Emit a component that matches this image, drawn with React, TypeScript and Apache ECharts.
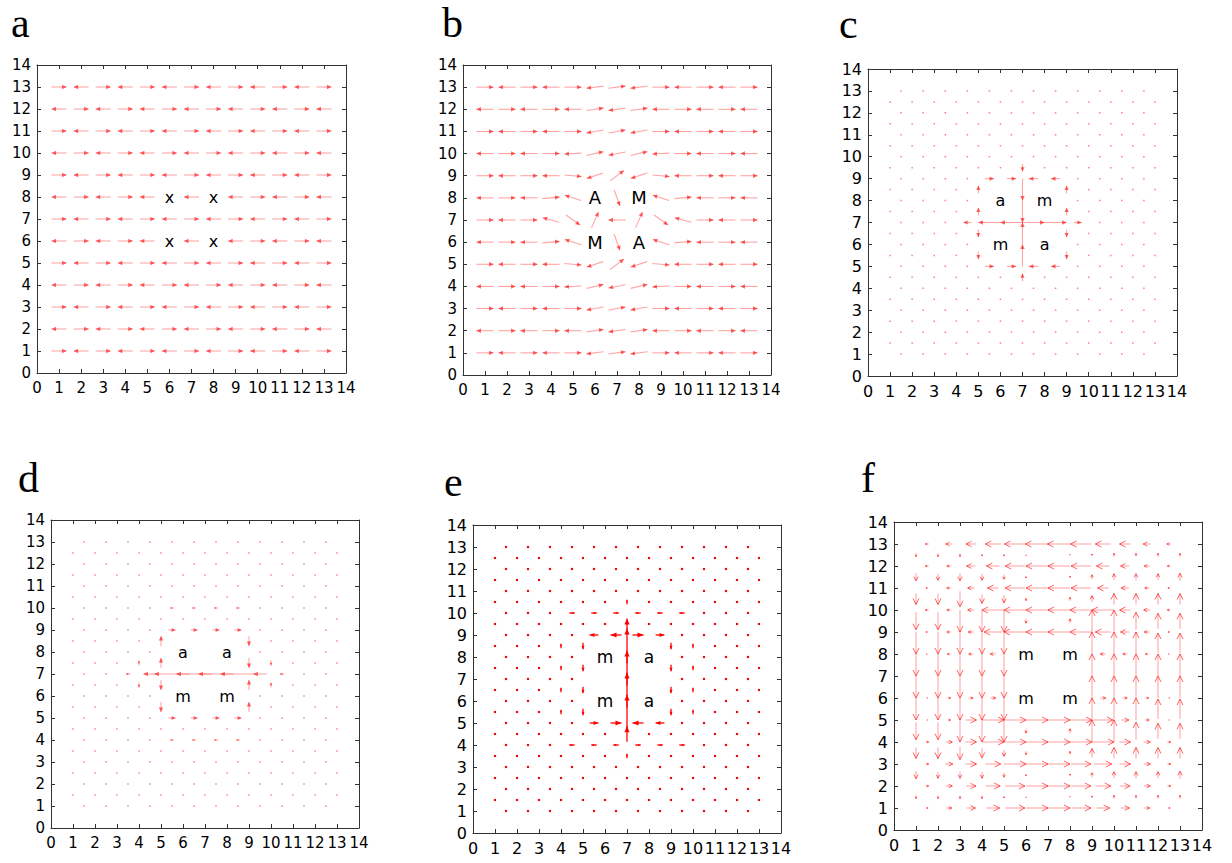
import React, { useEffect, useRef } from "react";
import * as echarts from "echarts";

// ---------- shared axis values ----------
const TICKS = [0, 1, 2, 3, 4, 5, 6, 7, 8, 9, 10, 11, 12, 13, 14];
const NODES = [1, 2, 3, 4, 5, 6, 7, 8, 9, 10, 11, 12, 13];
const HALVES = [1.5, 2.5, 3.5, 4.5, 5.5, 6.5, 7.5, 8.5, 9.5, 10.5, 11.5, 12.5];
const ROWS_TOP_DOWN = [13, 12, 11, 10, 9, 8, 7, 6, 5, 4, 3, 2, 1];
const HALF_ROWS_TOP_DOWN = [12.5, 11.5, 10.5, 9.5, 8.5, 7.5, 6.5, 5.5, 4.5, 3.5, 2.5, 1.5];

// ---------- labels at the four central nodes ----------
const LABEL_NODES = [[6, 8], [8, 8], [6, 6], [8, 6]];
const A_LABELS = ["x", "x", "x", "x"];
const B_LABELS = ["A", "M", "M", "A"];
const C_LABELS = ["a", "m", "m", "a"];
const D_LABELS = ["a", "a", "m", "m"];
const E_LABELS = ["m", "a", "m", "a"];
const F_LABELS = ["m", "m", "m", "m"];

// ---------- panel a: horizontal vectors at nodes (R right, L left, . none) ----------
const A_LENGTH = 0.68;
const A_ROWS = [
  "RLRLRLRLRLRLR",
  "LRLRLRLRLRLRL",
  "RLRLRLRLRLRLR",
  "LRLRLRLRLRLRL",
  "RLRLRLRLRLRLR",
  "LRLRL.L.LRLRL",
  "RLRLRLRLRLRLR",
  "LRLRL.L.LRLRL",
  "RLRLRLRLRLRLR",
  "LRLRLRLRLRLRL",
  "RLRLRLRLRLRLR",
  "LRLRLRLRLRLRL",
  "RLRLRLRLRLRLR",
];

// ---------- panel b: vector angle (degrees) at nodes, rows y=13..1 ----------
const B_LENGTH = 0.78;
const B_ANGLES = [
  [0, 180, 0, 180, 0, 187, 7, 187, 0, 180, 0, 180, 0],
  [180, 0, 180, 0, 180, 8, 188, 8, 180, 0, 180, 0, 180],
  [0, 180, 0, 180, 0, 190, 10, 190, 0, 180, 0, 180, 0],
  [180, 0, 180, 0, 183, 13, 191, 13, 183, 0, 180, 0, 180],
  [0, 180, 0, 180, 355, 198, 37, 198, 355, 180, 0, 180, 0],
  [180, 0, 180, 5, 162, null, -70, null, 162, 5, 180, 0, 180],
  [0, 180, 0, 165, -35, 66, 180, 66, -35, 165, 0, 180, 0],
  [180, 0, 180, 5, 162, null, -70, null, 162, 5, 180, 0, 180],
  [0, 180, 0, 180, 355, 198, 37, 198, 355, 180, 0, 180, 0],
  [180, 0, 180, 0, 183, 13, 191, 13, 183, 0, 180, 0, 180],
  [0, 180, 0, 180, 0, 190, 10, 190, 0, 180, 0, 180, 0],
  [180, 0, 180, 0, 180, 8, 188, 8, 180, 0, 180, 0, 180],
  [0, 180, 0, 180, 0, 187, 7, 187, 0, 180, 0, 180, 0],
];

// ---------- panels c, d, e: non-negligible edge vectors [x, y, u, v] ----------
const C_VECTORS = [
  [7, 9.5, 0, -0.35], [7, 8.5, 0, -1], [7, 7.5, 0, -1], [7, 6.5, 0, 1], [7, 5.5, 0, 1], [7, 4.5, 0, 0.35],
  [4.5, 7, -0.35, 0], [5.5, 7, -1, 0], [6.5, 7, -1, 0], [7.5, 7, 1, 0], [8.5, 7, 1, 0], [9.5, 7, 0.35, 0],
  [5.5, 9, 0.42, 0], [6.5, 9, 0.42, 0], [7.5, 9, -0.42, 0], [8.5, 9, -0.42, 0],
  [5.5, 5, 0.42, 0], [6.5, 5, 0.42, 0], [7.5, 5, -0.42, 0], [8.5, 5, -0.42, 0],
  [5, 8.5, 0, 0.35], [5, 7.5, 0, 0.35], [5, 6.5, 0, -0.35], [5, 5.5, 0, -0.35],
  [9, 8.5, 0, 0.35], [9, 7.5, 0, 0.35], [9, 6.5, 0, -0.35], [9, 5.5, 0, -0.35],
];
const D_VECTORS = [
  [3.5, 7, -0.2, 0], [4.5, 7, -0.6, 0], [5.5, 7, -1.6, 0], [6.5, 7, -1.6, 0], [7.5, 7, -1.6, 0], [8.5, 7, -1.6, 0], [9.5, 7, -0.6, 0], [10.5, 7, -0.2, 0],
  [5, 8.5, 0, 0.45], [5, 7.5, 0, 0.45], [5, 6.5, 0, -0.45], [5, 5.5, 0, -0.45],
  [9, 8.5, 0, -0.45], [9, 7.5, 0, -0.45], [9, 6.5, 0, 0.45], [9, 5.5, 0, 0.45],
  [5.5, 9, 0.32, 0], [6.5, 9, 0.32, 0], [7.5, 9, 0.32, 0], [8.5, 9, 0.32, 0],
  [5.5, 5, 0.32, 0], [6.5, 5, 0.32, 0], [7.5, 5, 0.32, 0], [8.5, 5, 0.32, 0],
  [4, 7.5, 0, 0.22], [4, 6.5, 0, -0.22], [10, 7.5, 0, -0.22], [10, 6.5, 0, 0.22],
  [5.5, 10, -0.18, 0], [6.5, 10, -0.18, 0], [7.5, 10, -0.18, 0], [8.5, 10, -0.18, 0],
  [5.5, 4, -0.18, 0], [6.5, 4, -0.18, 0], [7.5, 4, -0.18, 0], [8.5, 4, -0.18, 0],
];
const E_VECTORS = [
  [7, 3.5, 0, 0.2], [7, 4.5, 0, 0.7], [7, 5.5, 0, 1.6], [7, 6.5, 0, 1.6], [7, 7.5, 0, 1.6], [7, 8.5, 0, 1.6], [7, 9.5, 0, 0.5], [7, 10.5, 0, 0.2],
  [5.5, 9, -0.4, 0], [6.5, 9, -0.5, 0], [7.5, 9, 0.5, 0], [8.5, 9, 0.4, 0],
  [5.5, 5, 0.4, 0], [6.5, 5, 0.5, 0], [7.5, 5, -0.5, 0], [8.5, 5, -0.4, 0],
  [5, 8.5, 0, -0.3], [5, 7.5, 0, -0.3], [5, 6.5, 0, -0.3], [5, 5.5, 0, -0.3],
  [9, 8.5, 0, -0.3], [9, 7.5, 0, -0.3], [9, 6.5, 0, -0.3], [9, 5.5, 0, -0.3],
  [4.5, 10, 0.25, 0], [5.5, 10, 0.25, 0], [6.5, 10, 0.25, 0], [7.5, 10, -0.25, 0], [8.5, 10, -0.25, 0], [9.5, 10, -0.25, 0],
  [4.5, 4, -0.25, 0], [5.5, 4, -0.25, 0], [6.5, 4, -0.25, 0], [7.5, 4, 0.25, 0], [8.5, 4, 0.25, 0], [9.5, 4, 0.25, 0],
  [4, 8.5, 0, 0.2], [4, 7.5, 0, 0.2], [4, 6.5, 0, 0.2], [4, 5.5, 0, 0.2],
  [10, 8.5, 0, 0.2], [10, 7.5, 0, 0.2], [10, 6.5, 0, 0.2], [10, 5.5, 0, 0.2],
];

// ---------- panel f: horizontal components u on rows y=13..1 at x=1.5..12.5 ----------
const F_U = [
  [-0.15, -0.3, -0.45, -0.7, -0.95, -1.05, -1.05, -0.95, -0.7, -0.5, -0.35, -0.2],
  [-0.15, -0.2, -0.4, -0.6, -0.9, -1.0, -1.0, -0.9, -0.6, -0.4, -0.25, -0.15],
  [-0.1, -0.2, -0.3, -0.5, -0.9, -1.0, -1.0, -0.9, -0.5, -0.35, -0.2, -0.1],
  [-0.15, -0.2, -0.3, -1.0, -1.0, -1.0, -1.0, -1.0, -1.0, -0.5, -0.3, -0.15],
  [-0.1, -0.2, -0.25, -0.8, -1.0, -1.0, -1.0, -1.0, -0.7, -0.4, -0.25, -0.1],
  [-0.05, -0.15, -0.2, -0.25, 0, 0, 0, 0, -0.25, -0.2, -0.15, -0.05],
  [0, 0, 0, 0, 0, 0, 0, 0, 0, 0, 0, 0],
  [0.05, 0.15, 0.2, 0.25, 0, 0, 0, 0, 0.25, 0.2, 0.15, 0.05],
  [0.05, 0.15, 0.5, 1.0, 1.0, 1.0, 1.0, 1.0, 0.9, 0.35, 0.2, 0.05],
  [0.15, 0.3, 0.5, 1.0, 1.0, 1.0, 1.0, 1.0, 1.0, 0.5, 0.3, 0.15],
  [0.15, 0.35, 0.5, 0.7, 1.0, 1.0, 1.0, 0.9, 0.8, 0.5, 0.3, 0.15],
  [0.15, 0.3, 0.45, 0.65, 0.9, 1.0, 1.0, 0.9, 0.7, 0.45, 0.3, 0.15],
  [0.1, 0.25, 0.4, 0.6, 0.9, 1.0, 1.0, 0.9, 0.6, 0.4, 0.25, 0.1],
];
// vertical components v on columns x=1..13 at y=12.5..1.5
const F_V = [
  [-0.15, -0.35, -0.5, -0.8, -1.0, -1.0, -1.0, -1.0, -0.8, -0.5, -0.35, -0.15],
  [-0.15, -0.3, -0.5, -0.8, -1.0, -1.0, -1.0, -1.0, -0.8, -0.5, -0.3, -0.15],
  [-0.15, -0.35, -0.7, -1.0, -1.0, -1.0, -1.0, -1.0, -1.0, -0.6, -0.3, -0.15],
  [-0.1, -0.3, -0.4, -1.0, -1.0, -1.0, -1.0, -1.0, -1.0, -0.45, -0.3, -0.15],
  [-0.1, -0.2, -0.35, -1.0, -1.0, -1.0, -1.0, -1.0, -1.0, -0.3, -0.2, -0.1],
  [-0.05, -0.1, -0.15, -0.2, 0, 0, 0, 0, -0.2, -0.15, -0.1, -0.05],
  [0, 0, 0, 0, 0, 0, 0, 0, 0, 0, 0, 0],
  [0.05, 0.1, 0.15, 0.2, 0, 0, 0, 0, 0.2, 0.15, 0.1, 0.05],
  [0.1, 0.2, 0.3, 1.0, 1.0, 1.0, 1.0, 1.0, 1.0, 0.4, 0.2, 0.1],
  [0.15, 0.3, 0.5, 1.0, 1.0, 1.0, 1.0, 1.0, 1.0, 0.5, 0.3, 0.15],
  [0.15, 0.3, 0.5, 0.8, 1.0, 1.0, 1.0, 1.0, 0.8, 0.5, 0.3, 0.15],
  [0.15, 0.3, 0.5, 0.7, 0.9, 1.0, 1.0, 0.9, 0.7, 0.5, 0.3, 0.15],
  [0.15, 0.35, 0.5, 0.7, 0.9, 1.0, 1.0, 0.9, 0.7, 0.5, 0.35, 0.15],
];

// ---------- data builders ----------
function buildA() {
  const out: number[][] = [];
  A_ROWS.forEach((row, ri) => {
    const y = ROWS_TOP_DOWN[ri];
    row.split("").forEach((ch, xi) => {
      const x = NODES[xi];
      if (ch === "R") out.push([x, y, A_LENGTH, 0]);
      if (ch === "L") out.push([x, y, -A_LENGTH, 0]);
    });
  });
  return out;
}
function buildB() {
  const out: number[][] = [];
  B_ANGLES.forEach((row, ri) => {
    const y = ROWS_TOP_DOWN[ri];
    row.forEach((ang, xi) => {
      if (ang === null) return;
      const r = ((ang as number) * Math.PI) / 180;
      out.push([NODES[xi], y, B_LENGTH * Math.cos(r), B_LENGTH * Math.sin(r)]);
    });
  });
  return out;
}
function inside(x: number, y: number) {
  return x > 5 && x < 9 && y > 5 && y < 9;
}
function latticeDots(vectors: number[][]) {
  const taken = new Set(vectors.map((v) => v[0] + "," + v[1]));
  const out: number[][] = [];
  ROWS_TOP_DOWN.forEach((y) =>
    HALVES.forEach((x) => {
      if (!inside(x, y) && !taken.has(x + "," + y)) out.push([x, y, 0, 0]);
    })
  );
  HALF_ROWS_TOP_DOWN.forEach((y) =>
    NODES.forEach((x) => {
      if (!inside(x, y) && !taken.has(x + "," + y)) out.push([x, y, 0, 0]);
    })
  );
  return out;
}
function buildF() {
  const out: number[][] = [];
  F_U.forEach((row, ri) =>
    row.forEach((u, xi) => {
      if (u !== 0) out.push([HALVES[xi], ROWS_TOP_DOWN[ri], u, 0]);
    })
  );
  F_V.forEach((col, xi) =>
    col.forEach((v, yi) => {
      if (v !== 0) out.push([NODES[xi], HALF_ROWS_TOP_DOWN[yi], 0, v]);
    })
  );
  return out;
}

// ---------- layout / style ----------
type Style = {
  shaft: string;
  shaftWidth: number;
  head: string;
  headLen: number;
  headW: number;
  open: boolean;
  dot: string;
  dotSize: number;
};
const PALE: Style = { shaft: "rgba(255,40,40,0.42)", shaftWidth: 1.1, head: "rgba(255,0,0,0.6)", headLen: 4.5, headW: 2.2, open: false, dot: "rgba(255,0,0,0.5)", dotSize: 1.5 };
const BOLD: Style = { shaft: "rgba(255,0,0,0.85)", shaftWidth: 1.5, head: "rgb(255,0,0)", headLen: 6, headW: 2.6, open: false, dot: "rgba(235,0,0,0.95)", dotSize: 2.2 };
const OPEN: Style = { shaft: "rgba(255,40,40,0.42)", shaftWidth: 1.1, head: "rgba(255,0,0,0.6)", headLen: 6, headW: 3, open: true, dot: "rgba(255,0,0,0.5)", dotSize: 1.5 };

const PANELS = [
  { title: "a", grid: { left: 37, top: 65, width: 309, height: 308 }, tx: 11, ty: 2, vectors: buildA(), dots: [] as number[][], labels: A_LABELS, style: PALE, labelSize: 16, tickSize: 15 },
  { title: "b", grid: { left: 463, top: 65, width: 308, height: 310 }, tx: 442, ty: 2, vectors: buildB(), dots: [] as number[][], labels: B_LABELS, style: PALE, labelSize: 18, tickSize: 15 },
  { title: "c", grid: { left: 868, top: 69, width: 309, height: 307 }, tx: 839, ty: 3, vectors: C_VECTORS, dots: latticeDots(C_VECTORS), labels: C_LABELS, style: PALE, labelSize: 16, tickSize: 16 },
  { title: "d", grid: { left: 51, top: 520, width: 308, height: 308 }, tx: 18, ty: 457, vectors: D_VECTORS, dots: latticeDots(D_VECTORS), labels: D_LABELS, style: PALE, labelSize: 16, tickSize: 15 },
  { title: "e", grid: { left: 473, top: 525, width: 308, height: 308 }, tx: 444, ty: 461, vectors: E_VECTORS, dots: latticeDots(E_VECTORS), labels: E_LABELS, style: BOLD, labelSize: 17, tickSize: 16 },
  { title: "f", grid: { left: 894, top: 522, width: 308, height: 308 }, tx: 861, ty: 457, vectors: buildF(), dots: [] as number[][], labels: F_LABELS, style: OPEN, labelSize: 16, tickSize: 16 },
];

function makeArrowRenderer(st: Style) {
  return (params: any, api: any) => {
    const x = api.value(0), y = api.value(1), u = api.value(2), v = api.value(3);
    const c = api.coord([x, y]);
    if (u === 0 && v === 0) {
      return { type: "rect", shape: { x: c[0] - st.dotSize / 2, y: c[1] - st.dotSize / 2, width: st.dotSize, height: st.dotSize }, style: { fill: st.dot } };
    }
    const p0 = api.coord([x - u / 2, y - v / 2]);
    const p1 = api.coord([x + u / 2, y + v / 2]);
    const dx = p1[0] - p0[0], dy = p1[1] - p0[1];
    const L = Math.hypot(dx, dy);
    const ux = dx / L, uy = dy / L;
    const hl = Math.min(st.headLen, L * 0.55);
    const hw = st.headW * (hl / st.headLen);
    const bx = p1[0] - ux * hl, by = p1[1] - uy * hl;
    const l1 = [bx - uy * hw, by + ux * hw];
    const l2 = [bx + uy * hw, by - ux * hw];
    const children: any[] = [
      { type: "line", shape: { x1: p0[0], y1: p0[1], x2: p1[0], y2: p1[1] }, style: { stroke: st.shaft, lineWidth: st.shaftWidth } },
    ];
    if (st.open) {
      children.push({ type: "polyline", shape: { points: [l1, p1, l2] }, style: { stroke: st.head, lineWidth: 1, fill: null } });
    } else {
      children.push({ type: "polygon", shape: { points: [l1, p1, l2] }, style: { fill: st.head } });
    }
    return { type: "group", children };
  };
}

const AXIS_COLOR = "#333";
const FONT = "DejaVu Sans";

function buildOption() {
  const grid: any[] = [];
  const xAxis: any[] = [];
  const yAxis: any[] = [];
  const series: any[] = [];
  const graphic: any[] = [];
  const step = TICKS[1] - TICKS[0];
  PANELS.forEach((p, i) => {
    grid.push({ ...p.grid, show: false, containLabel: false });
    const base = {
      type: "value",
      min: TICKS[0],
      max: TICKS[TICKS.length - 1],
      interval: step,
      gridIndex: i,
      splitLine: { show: false },
      axisLine: { show: true, onZero: false, lineStyle: { color: AXIS_COLOR, width: 1 } },
      axisTick: { show: true, inside: true, length: 4, lineStyle: { color: AXIS_COLOR, width: 1 } },
    };
    xAxis.push({ ...base, position: "bottom", axisLabel: { show: true, color: "#000", fontSize: p.tickSize, fontFamily: FONT, margin: 7 } });
    xAxis.push({ ...base, position: "top", axisLabel: { show: false } });
    yAxis.push({ ...base, position: "left", axisLabel: { show: true, color: "#000", fontSize: p.tickSize, fontFamily: FONT, margin: 6 } });
    yAxis.push({ ...base, position: "right", axisLabel: { show: false } });
    const render = makeArrowRenderer(p.style);
    if (p.dots.length) {
      series.push({ type: "custom", xAxisIndex: 2 * i, yAxisIndex: 2 * i, data: p.dots, renderItem: render, silent: true, clip: false });
    }
    series.push({ type: "custom", xAxisIndex: 2 * i, yAxisIndex: 2 * i, data: p.vectors, renderItem: render, silent: true, clip: false });
    series.push({
      type: "custom",
      xAxisIndex: 2 * i,
      yAxisIndex: 2 * i,
      data: LABEL_NODES.map((n, k) => [n[0], n[1], p.labels[k]]),
      silent: true,
      renderItem: (params: any, api: any) => {
        const c = api.coord([api.value(0), api.value(1)]);
        return {
          type: "text",
          x: c[0],
          y: c[1],
          style: { text: String(api.value(2)), fill: "#000", fontSize: p.labelSize, fontFamily: FONT, align: "center", verticalAlign: "middle" },
        };
      },
      encode: { x: 0, y: 1 },
      dimensions: ["x", "y", { name: "t", type: "ordinal" }],
    });
    graphic.push({
      type: "text",
      left: p.tx,
      top: p.ty,
      style: { text: p.title, fill: "#000", fontSize: 42, fontFamily: "Liberation Serif" },
    });
  });
  return { animation: false, backgroundColor: "#fff", grid, xAxis, yAxis, series, graphic };
}

export default function App() {
  const ref = useRef<HTMLDivElement>(null);
  useEffect(() => {
    if (!ref.current) return;
    const chart = echarts.init(ref.current, undefined, { renderer: "svg" });
    chart.setOption(buildOption() as any);
    return () => chart.dispose();
  }, []);
  return <div ref={ref} style={{ position: "fixed", left: 0, top: 0, width: 1232, height: 863, background: "#fff" }} />;
}
